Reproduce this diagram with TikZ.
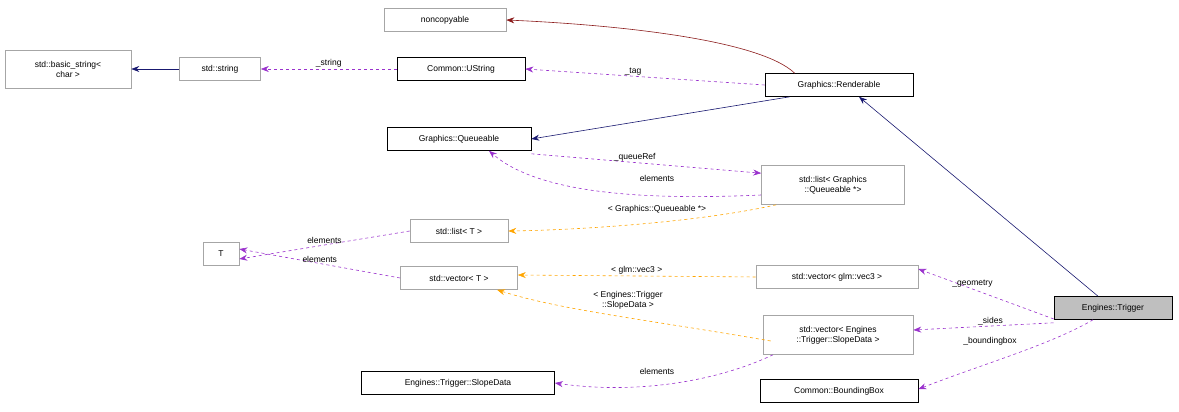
\documentclass[tikz,border=0pt]{standalone}
\usepackage{fontspec}
\setmainfont{Liberation Sans}
\usetikzlibrary{arrows.meta}
\definecolor{pur}{HTML}{9A32CD}
\definecolor{org}{HTML}{FFA500}
\definecolor{nav}{HTML}{191970}
\definecolor{drd}{HTML}{8B1A1A}
\begin{document}
\begin{tikzpicture}[x=1pt,y=-1pt,font=\fontsize{8.5}{10}\selectfont,
 box/.style={draw=gray!70,minimum height=23pt,inner sep=3pt,align=center,line width=0.6pt},
 bbox/.style={box,draw=black},
 tip/.style={-{Stealth[length=8pt,width=6pt]}},
 mem/.style={tip,draw=pur,dashed,line width=0.6pt,tips=proper},
 tpl/.style={tip,draw=org,dashed,line width=0.6pt},
 inh/.style={tip,draw=nav,line width=0.6pt},
 lab/.style={font=\fontsize{8.5}{10}\selectfont,inner sep=1pt,align=center}]
\useasboundingbox (0,0) rectangle (1179,412);
\node[box,minimum width=122pt] (nc) at (445,20) {noncopyable};
\node[box,minimum width=126pt,minimum height=38pt] (bs) at (68,69) {std::basic\_string<\\ char >};
\node[box,minimum width=81pt] (ss) at (220,69) {std::string};
\node[bbox,minimum width=128pt] (us) at (461,69) {Common::UString};
\node[bbox,minimum width=148pt] (re) at (839,85) {Graphics::Renderable};
\node[bbox,minimum width=144pt] (qu) at (459,139) {Graphics::Queueable};
\node[box,minimum width=143pt,minimum height=39pt] (lq) at (833,185) {std::list< Graphics\\ ::Queueable *>};
\node[box,minimum width=98pt] (lt) at (459,231) {std::list< T >};
\node[box,minimum width=36pt] (T) at (221,254) {T};
\node[box,minimum width=117pt] (vt) at (459,278) {std::vector< T >};
\node[box,minimum width=162pt] (vg) at (837,277) {std::vector< glm::vec3 >};
\node[bbox,fill=gray!50,minimum width=118pt] (tr) at (1113,308) {Engines::Trigger};
\node[box,minimum width=150pt,minimum height=39pt] (vs) at (838,335) {std::vector< Engines\\ ::Trigger::SlopeData >};
\node[bbox,minimum width=193pt] (sd) at (458,383) {Engines::Trigger::SlopeData};
\node[bbox,minimum width=158pt] (bb) at (839,391) {Common::BoundingBox};

\draw[tip,draw=drd,line width=0.6pt] (re.north west)+(30,0) .. controls (760,40) and (620,25) .. (nc.east);
\draw[inh] (ss.west) -- (bs.east);
\draw[mem] (us.west) -- node[lab,above]{\_string} (ss.east);
\draw[mem] (re.west) -- node[lab,above,pos=0.55]{\_tag} (us.east);
\draw[inh] ([xshift=25pt]re.south west) -- (qu.east);
\draw[inh] ([xshift=-15pt]tr.north) -- ([xshift=20pt]re.south);
\draw[mem] ([yshift=-3pt]qu.south east) -- node[lab,above,pos=0.45]{\_queueRef} ([yshift=-8pt]lq.north west);
\draw[mem] ([yshift=-10pt]lq.west) .. controls (650,200) and (540,195) .. ([xshift=30pt]qu.south);
\node[lab] at (657,178) {elements};
\draw[tpl] ([xshift=15pt]lq.south west) .. controls (700,222) and (580,230) .. (lt.east);
\node[lab] at (657,209) {< Graphics::Queueable *>};
\draw[mem] (lt.west) -- node[lab,above]{elements} ([yshift=-5pt]T.east);
\draw[mem] (vt.west) -- node[lab,above]{elements} ([yshift=5pt]T.east);
\draw[tpl] (vg.west) -- node[lab,above]{< glm::vec3 >} ([yshift=3pt]vt.east);
\draw[tpl] ([xshift=8pt,yshift=-6pt]vs.west) .. controls (650,320) and (560,310) .. ([xshift=38pt]vt.south);
\node[lab] at (628,300) {< Engines::Trigger\\ ::SlopeData >};
\draw[mem] ([yshift=-11pt]tr.west) -- node[lab,above,pos=0.6]{\_geometry} ([yshift=8pt]vg.east);
\draw[mem] ([yshift=-3pt]tr.south west) -- node[lab,above,pos=0.45]{\_sides} ([yshift=5pt]vs.east);
\draw[mem] ([xshift=-20pt]tr.south) .. controls (1050,345) and (980,365) .. ([yshift=-10pt]bb.north east);
\node[lab] at (990,341) {\_boundingbox};
\draw[mem] ([xshift=-65pt]vs.south) .. controls (720,380) and (640,395) .. (sd.east);
\node[lab] at (657,371) {elements};
\end{tikzpicture}
\end{document}
